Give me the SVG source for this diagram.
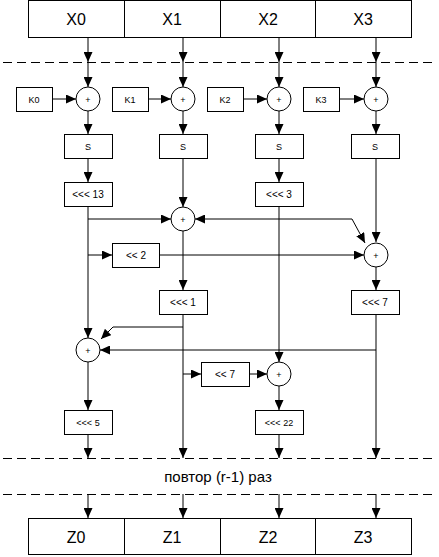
<svg xmlns="http://www.w3.org/2000/svg" width="439" height="557" viewBox="0 0 439 557">
<style>
rect{fill:#fff;stroke:#000;stroke-width:1}
circle{fill:#fff;stroke:#000;stroke-width:1}
line,path.c{stroke:#000;stroke-width:1;fill:none}
.d{stroke:#000;stroke-width:1;stroke-dasharray:9,5}
text{font-family:"Liberation Sans",Arial,sans-serif;fill:#000;text-anchor:middle;dominant-baseline:central}
.big{font-size:16px}
.sm{font-size:9px}
.md{font-size:10px}
.a{marker-end:url(#ah)}
</style>
<defs>
<marker id="ah" markerUnits="userSpaceOnUse" markerWidth="10" markerHeight="9" refX="10" refY="4.5" orient="auto">
<path d="M0,0 L10,4.5 L0,9 z" fill="#000"/>
</marker>
</defs>
<rect x="0" y="0" width="439" height="557" style="stroke:none;fill:#fff"/>
<g id="connectors">
<line class="d" x1="3" y1="62.5" x2="436" y2="62.5"/>
<line class="d" x1="3" y1="458.5" x2="436" y2="458.5"/>
<line class="d" x1="3" y1="494.5" x2="436" y2="494.5"/>
<line class="a" x1="88" y1="37" x2="88" y2="62"/>
<line class="a" x1="183" y1="37" x2="183" y2="62"/>
<line class="a" x1="279" y1="37" x2="279" y2="62"/>
<line class="a" x1="376" y1="37" x2="376" y2="62"/>
<line class="a" x1="88" y1="62" x2="88" y2="87"/>
<line class="a" x1="183" y1="62" x2="183" y2="87"/>
<line class="a" x1="279" y1="62" x2="279" y2="87"/>
<line class="a" x1="376" y1="62" x2="376" y2="87"/>
<line class="a" x1="52" y1="99" x2="76" y2="99"/>
<line class="a" x1="148" y1="99" x2="171" y2="99"/>
<line class="a" x1="244" y1="99" x2="267" y2="99"/>
<line class="a" x1="340" y1="99" x2="364" y2="99"/>
<line class="a" x1="88" y1="111" x2="88" y2="134"/>
<line class="a" x1="183" y1="111" x2="183" y2="134"/>
<line class="a" x1="279" y1="111" x2="279" y2="134"/>
<line class="a" x1="376" y1="111" x2="376" y2="134"/>
<line class="a" x1="88" y1="158" x2="88" y2="182"/>
<line class="a" x1="183" y1="158" x2="183" y2="207"/>
<line class="a" x1="279" y1="158" x2="279" y2="182"/>
<line class="a" x1="376" y1="158" x2="376" y2="242"/>
<line class="a" x1="88" y1="206" x2="88" y2="338"/>
<line class="a" x1="88" y1="219" x2="171" y2="219"/>
<line class="a" x1="88" y1="255" x2="112" y2="255"/>
<line class="a" x1="159" y1="255" x2="364" y2="255"/>
<line class="a" x1="352" y1="219" x2="195" y2="219"/>
<line class="a" x1="352" y1="219" x2="365" y2="243"/>
<line class="a" x1="183" y1="231" x2="183" y2="290"/>
<line class="a" x1="183" y1="314" x2="183" y2="458"/>
<path class="c a" d="M183,327 L113,327 L101,339"/>
<line class="a" x1="183" y1="374" x2="201" y2="374"/>
<line class="a" x1="249" y1="374" x2="267" y2="374"/>
<line class="a" x1="279" y1="206" x2="279" y2="362"/>
<line class="a" x1="279" y1="386" x2="279" y2="410"/>
<line class="a" x1="279" y1="434" x2="279" y2="458"/>
<line class="a" x1="376" y1="266" x2="376" y2="290"/>
<line class="a" x1="376" y1="314" x2="376" y2="458"/>
<line class="a" x1="376" y1="350" x2="100" y2="350"/>
<line class="a" x1="88" y1="362" x2="88" y2="410"/>
<line class="a" x1="88" y1="434" x2="88" y2="458"/>
<line class="a" x1="88" y1="494" x2="88" y2="518"/>
<line class="a" x1="183" y1="494" x2="183" y2="518"/>
<line class="a" x1="279" y1="494" x2="279" y2="518"/>
<line class="a" x1="376" y1="494" x2="376" y2="518"/>
</g>
<g id="top">
<rect x="28.5" y="0.5" width="383" height="37"/>
<line x1="124.5" y1="0.5" x2="124.5" y2="37.5"/>
<line x1="220.5" y1="0.5" x2="220.5" y2="37.5"/>
<line x1="315.5" y1="0.5" x2="315.5" y2="37.5"/>
<text class="big" x="76" y="19">X0</text>
<text class="big" x="172" y="19">X1</text>
<text class="big" x="268" y="19">X2</text>
<text class="big" x="363" y="19">X3</text>
</g>
<g id="k0"><rect x="16.5" y="87.5" width="36" height="24"/><text class="sm" x="34" y="99.5">K0</text></g>
<g id="k1"><rect x="112.5" y="87.5" width="36" height="24"/><text class="sm" x="130" y="99.5">K1</text></g>
<g id="k2"><rect x="207.5" y="87.5" width="36" height="24"/><text class="sm" x="225" y="99.5">K2</text></g>
<g id="k3"><rect x="303.5" y="87.5" width="36" height="24"/><text class="sm" x="321" y="99.5">K3</text></g>
<g id="add0"><circle cx="88" cy="99" r="12"/><text class="sm" x="88" y="99.5">+</text></g>
<g id="add1"><circle cx="183" cy="99" r="12"/><text class="sm" x="183" y="99.5">+</text></g>
<g id="add2"><circle cx="279" cy="99" r="12"/><text class="sm" x="279" y="99.5">+</text></g>
<g id="add3"><circle cx="376" cy="99" r="12"/><text class="sm" x="376" y="99.5">+</text></g>
<g id="s0"><rect x="64.5" y="134.5" width="48" height="24"/><text class="sm" x="88" y="146.5">S</text></g>
<g id="s1"><rect x="159.5" y="134.5" width="48" height="24"/><text class="sm" x="183" y="146.5">S</text></g>
<g id="s2"><rect x="255.5" y="134.5" width="48" height="24"/><text class="sm" x="279" y="146.5">S</text></g>
<g id="s3"><rect x="351.5" y="134.5" width="48" height="24"/><text class="sm" x="375" y="146.5">S</text></g>
<g id="rot13"><rect x="64.5" y="182.5" width="48" height="24"/><text class="md" x="88" y="194.5">&lt;&lt;&lt; 13</text></g>
<g id="rot3"><rect x="255.5" y="182.5" width="48" height="24"/><text class="md" x="279" y="194.5">&lt;&lt;&lt; 3</text></g>
<g id="xor1"><circle cx="183" cy="219" r="12"/><text class="sm" x="183" y="219.5">+</text></g>
<g id="shl2"><rect x="112.5" y="243.5" width="47" height="24"/><text class="md" x="136" y="255.5">&lt;&lt; 2</text></g>
<g id="xor3"><circle cx="376" cy="255" r="12"/><text class="sm" x="376" y="255.5">+</text></g>
<g id="rot1"><rect x="159.5" y="290.5" width="48" height="24"/><text class="md" x="183" y="302.5">&lt;&lt;&lt; 1</text></g>
<g id="rot7"><rect x="351.5" y="290.5" width="48" height="24"/><text class="md" x="375" y="302.5">&lt;&lt;&lt; 7</text></g>
<g id="xor0"><circle cx="88" cy="350" r="12"/><text class="sm" x="88" y="350.5">+</text></g>
<g id="shl7"><rect x="201.5" y="362.5" width="48" height="24"/><text class="md" x="225" y="374.5">&lt;&lt; 7</text></g>
<g id="xor2"><circle cx="279" cy="374" r="12"/><text class="sm" x="279" y="374.5">+</text></g>
<g id="rot5"><rect x="64.5" y="410.5" width="48" height="24"/><text class="sm" x="88" y="422.5">&lt;&lt;&lt; 5</text></g>
<g id="rot22"><rect x="255.5" y="410.5" width="48" height="24"/><text class="sm" x="279" y="422.5">&lt;&lt;&lt; 22</text></g>
<g id="repeat"><text x="218" y="476" style="font-size:15px">повтор (r-1) раз</text></g>
<g id="bottom">
<rect x="28.5" y="518.5" width="383" height="36"/>
<line x1="124.5" y1="518.5" x2="124.5" y2="554.5"/>
<line x1="220.5" y1="518.5" x2="220.5" y2="554.5"/>
<line x1="315.5" y1="518.5" x2="315.5" y2="554.5"/>
<text class="big" x="76" y="537">Z0</text>
<text class="big" x="172" y="537">Z1</text>
<text class="big" x="268" y="537">Z2</text>
<text class="big" x="363" y="537">Z3</text>
</g>
</svg>
